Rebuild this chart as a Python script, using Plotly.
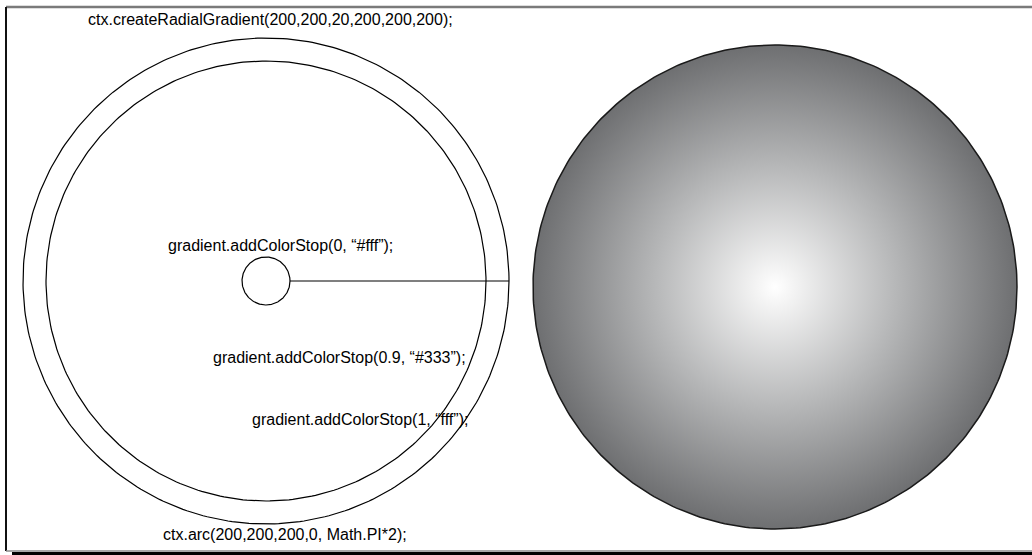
import numpy as np
import plotly.graph_objects as go

# Diagram geometry (pixel space of the 1032x555 picture, y down)
outline_names = ['outer', 'inner', 'start']
outline_cx = [266, 266, 266]
outline_cy = [281, 281, 281]
outline_r = [243, 220, 24]

filled_cx = 775
filled_cy = 287
filled_r = 242
gradient_stops = [0.0, 0.06, 0.5, 1.0]
gradient_colors = ['#ffffff', '#f6f6f6', '#b6b7b8', '#6e6f71']

labels = [
    'ctx.createRadialGradient(200,200,20,200,200,200);',
    'gradient.addColorStop(0, “#fff”);',
    'gradient.addColorStop(0.9, “#333”);',
    'gradient.addColorStop(1, “fff”);',
    'ctx.arc(200,200,200,0, Math.PI*2);',
]
label_x = [88, 168, 213, 252, 163]
label_y = [21, 247, 359, 421, 536]

W, H = 1032, 555


def ring(cx, cy, r, n=361):
    t = np.linspace(0, 2 * np.pi, n)
    return cx + r * np.cos(t), cy + r * np.sin(t)


fig = go.Figure()

for name, cx, cy, r in zip(outline_names, outline_cx, outline_cy, outline_r):
    x, y = ring(cx, cy, r)
    fig.add_trace(go.Scatter(x=x, y=y, mode='lines', name=name,
                             line=dict(color='#000000', width=1.2),
                             hoverinfo='skip'))

# radius line from the start circle to the outer circle
fig.add_trace(go.Scatter(x=[outline_cx[2] + outline_r[2], outline_cx[0] + outline_r[0]],
                         y=[outline_cy[0], outline_cy[0]], mode='lines',
                         line=dict(color='#000000', width=1.2), hoverinfo='skip'))

# gradient filled circle
x, y = ring(filled_cx, filled_cy, filled_r)
fig.add_trace(go.Scatter(
    x=x, y=y, mode='lines', fill='toself',
    line=dict(color='#1a1a1a', width=1.5),
    fillgradient=dict(type='radial',
                      colorscale=[[s, c] for s, c in zip(gradient_stops, gradient_colors)]),
    hoverinfo='skip'))

fig.add_trace(go.Scatter(
    x=label_x, y=label_y, mode='text', text=labels, textposition='middle right',
    textfont=dict(family='Liberation Sans, Arial', size=16, color='#000000'),
    hoverinfo='skip'))

# picture frame
frame = [
    dict(x0=6, y0=7, x1=W, y1=7, color='#7a7a7a', width=2.5),
    dict(x0=6, y0=7, x1=6, y1=551, color='#111111', width=2),
    dict(x0=6, y0=551, x1=W, y1=551, color='#8a8a8a', width=1.5),
    dict(x0=12, y0=553.5, x1=W, y1=553.5, color='#000000', width=3),
]
for f in frame:
    fig.add_shape(type='line', x0=f['x0'], y0=f['y0'], x1=f['x1'], y1=f['y1'],
                  line=dict(color=f['color'], width=f['width']), layer='above')

fig.update_layout(
    width=W, height=H,
    margin=dict(l=0, r=0, t=0, b=0),
    paper_bgcolor='white', plot_bgcolor='white',
    showlegend=False,
    xaxis=dict(range=[0, W], visible=False, fixedrange=True),
    yaxis=dict(range=[H, 0], visible=False, fixedrange=True),
)

fig.write_html("out.html", config={'displayModeBar': False},
               post_script="document.body.style.margin='0';document.body.style.overflow='hidden';")
